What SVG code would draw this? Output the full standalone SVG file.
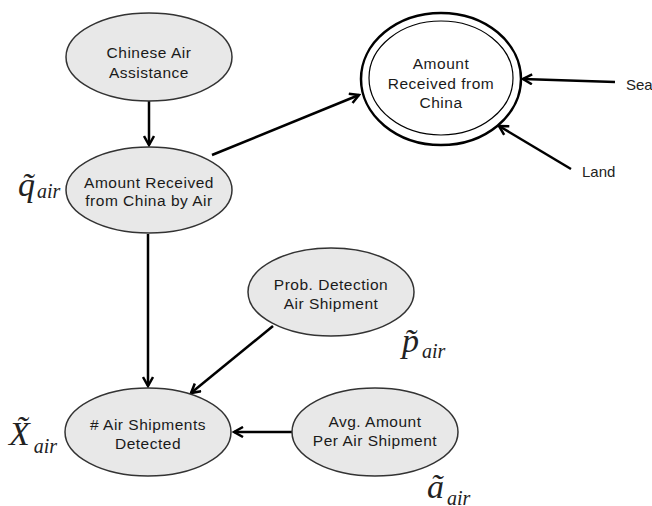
<svg xmlns="http://www.w3.org/2000/svg" width="652" height="506" viewBox="0 0 652 506">
<defs>
<marker id="arr" viewBox="0 0 12 12" refX="10" refY="6" markerWidth="12" markerHeight="12" markerUnits="userSpaceOnUse" orient="auto">
<path d="M1,1 L10,6 L1,11" fill="none" stroke="#000" stroke-width="2.5" stroke-linejoin="miter"/>
</marker>
<style>
.node{fill:#e8e8e8;stroke:#333;stroke-width:1.5}
.lbl{font-family:"Liberation Sans",Arial,sans-serif;font-size:15.5px;letter-spacing:0.5px;fill:#1a1a1a;text-anchor:middle}
.small{font-family:"Liberation Sans",Arial,sans-serif;font-size:15px;fill:#222}
.edge{stroke:#000;stroke-width:2.5;fill:none;marker-end:url(#arr)}
.m{font-family:"Liberation Serif","Times New Roman",serif;font-style:italic;fill:#222}
</style>
</defs>
<rect width="652" height="506" fill="#fff"/>
<g id="connectors">
<line class="edge" x1="149" y1="101" x2="149" y2="145"/>
<line class="edge" x1="148" y1="234" x2="148" y2="386"/>
<line class="edge" x1="212" y1="155" x2="359" y2="95"/>
<line class="edge" x1="615" y1="82" x2="523" y2="79"/>
<line class="edge" x1="571" y1="169" x2="499" y2="126"/>
<line class="edge" x1="273" y1="326" x2="191" y2="393"/>
<line class="edge" x1="292" y1="432" x2="234" y2="432"/>
</g>
<g id="n-chinese-air">
<ellipse class="node" cx="149" cy="57" rx="83" ry="44"/>
<text class="lbl" x="149" y="58">Chinese Air</text>
<text class="lbl" x="149" y="78">Assistance</text>
</g>
<g id="n-received-air">
<ellipse class="node" cx="149" cy="190" rx="83" ry="43"/>
<text class="lbl" x="149" y="188">Amount Received</text>
<text class="lbl" x="149" y="206">from China by Air</text>
</g>
<g id="n-received">
<ellipse cx="441" cy="79" rx="80" ry="66" fill="#fff" stroke="#000" stroke-width="2.5"/>
<ellipse cx="441" cy="78" rx="72" ry="57" fill="none" stroke="#000" stroke-width="1.2"/>
<text class="lbl" x="441" y="69">Amount</text>
<text class="lbl" x="441" y="89">Received from</text>
<text class="lbl" x="441" y="108">China</text>
</g>
<g id="n-detected">
<ellipse class="node" cx="148" cy="432" rx="83" ry="44"/>
<text class="lbl" x="148" y="430"># Air Shipments</text>
<text class="lbl" x="148" y="449">Detected</text>
</g>
<g id="n-prob">
<ellipse class="node" cx="331" cy="292" rx="83" ry="44"/>
<text class="lbl" x="331" y="290">Prob. Detection</text>
<text class="lbl" x="331" y="309">Air Shipment</text>
</g>
<g id="n-avg">
<ellipse class="node" cx="375" cy="432" rx="83" ry="44"/>
<text class="lbl" x="375" y="427">Avg. Amount</text>
<text class="lbl" x="375" y="446">Per Air Shipment</text>
</g>
<g id="labels">
<text class="small" x="626" y="90">Sea</text>
<text class="small" x="582" y="177">Land</text>
<text class="m" x="18" y="196" font-size="34">q̃<tspan font-size="20" dx="2" dy="2">air</tspan></text>
<text class="m" x="9" y="445" font-size="34">X̃<tspan font-size="20" dx="4" dy="8">air</tspan></text>
<text class="m" x="402" y="352" font-size="34">p̃<tspan font-size="20" dx="3" dy="6">air</tspan></text>
<text class="m" x="427" y="498" font-size="34">ã<tspan font-size="20" dx="3" dy="7">air</tspan></text>
</g>
</svg>
